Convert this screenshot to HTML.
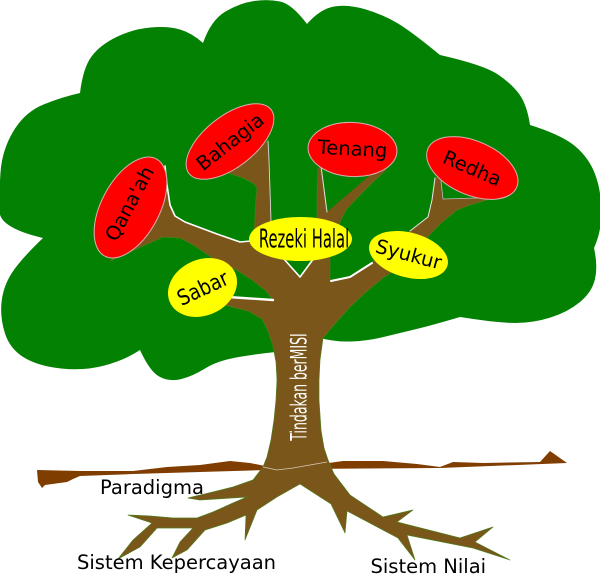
<!DOCTYPE html>
<html>
<head>
<meta charset="utf-8">
<style>
html,body{margin:0;padding:0;background:#fff;width:600px;height:574px;overflow:hidden}
svg{display:block}
</style>
</head>
<body>
<svg width="600" height="574" viewBox="0 0 600 574" xmlns="http://www.w3.org/2000/svg" font-family="'DejaVu Sans','Liberation Sans',sans-serif">
  <!-- canopy -->
  <path fill="#038103" d="M276,352 Q255,354 236,357.5 Q217,361 205,368.5 Q193,376 181.5,379 Q170,382 160,377 Q150,372 140,350 Q125,360 104.5,365.5 Q84,371 61,368.5 Q38,366 24,357.5 Q10,349 5,333.5 Q0,318 1.5,302.5 Q3,287 11.5,273.5 Q20,260 43,238 Q0,228 -0.5,211.5 Q-1,195 0.5,172.5 Q2,150 13.5,131 Q25,112 43.5,104.5 Q62,97 80,93 Q83,68 91.5,56.5 Q100,45 116.5,37 Q133,29 150.5,27.5 Q168,26 180,29.5 Q192,33 203,43 Q211,20 225.5,11.5 Q240,3 254,1 Q268,-1 280,1.5 Q292,4 307,24 Q320,9 334,6.5 Q348,4 366,9.5 Q384,15 398,23.5 Q412,32 440,55 Q484,65 498,74.5 Q512,84 519.5,94.5 Q527,105 530,125 Q562,135 575.5,146.5 Q589,158 595,174 Q601,190 601.5,210 Q602,230 594,248 Q598,266 595,279 Q592,292 580,302 Q568,312 550.5,317.5 Q533,323 515.5,323 Q498,323 460,317 Q433,325 416.5,329 Q400,333 383.5,337 Q367,341 351,341.5 Q335,342 320,338 L300,350 Z"/>

  <!-- ground strip -->
  <path fill="#803d00" d="M37,470 L80,471 L133,471 L167,467 L200,465 L230,461 L250,463 L265,466 L300,467 L343,461 L383,461 L417,464 L440,467 L453,462 L483,463 L540,462 L550,451 L567,463 L440,468 L300,469 L133,474 L80,476 L73,479 L67,482 L45,485 L42,488 L38,482 Z"/>

  <!-- tree trunk, branches, roots -->
  <path fill="#7a561b" stroke="#4f7d1b" stroke-width="0.7" stroke-linejoin="round" d="M263,467 L267,457 L271,440 L274,420 L276,400 L277,380 L276,362 L273,346 L268,331 L262,319 L248,311 L232,307 L222,304 L222,298 L232,297 L273,300 L266,291 L252,280 L233,268 L212,258 L195,246 L180,238 L163,237 L110,261 L145,232 L152,222 L158,200 L162,178 L165,166 L167,185 L170,205 L175,216 L185,222 L217,234 L240,242 L251,241 L254,232 L255,215 L256,198 L257,188 L253,183 L243,178 L226,172 L240,158 L260,146 L268,141 L269,160 L270,190 L271,222 L300,226 L317,220 L317,195 L318,168 L340,160 L386,170 L372,183 L358,197 L346,210 L340,222 L336,245 L330,257 L330,280 L350,277 L371,263 L390,246 L410,231 L428,217 L432,200 L435,178 L445,176 L480,192 L495,197 L487,200 L470,205 L457,210 L440,224 L420,245 L398,268 L383,278 L366,292 L350,307 L333,326 L323,338 L320,360 L319,380 L319,400 L321,430 L324,448 L328,460 L334,474 L350,495 L383,517 L413,510 L397,522 L460,538 L493,527 L475,542 L510,560 L473,548 L407,535 L415,560 L398,538 L347,511 L345,533 L331,504 L300,484 L277,497 L257,510 L245,540 L246,515 L227,523 L205,530 L187,550 L172,558 L180,542 L193,528 L157,528 L140,547 L118,559 L133,540 L152,523 L128,515 L150,516 L173,518 L197,518 L213,512 L233,503 L247,497 L200,500 L188,498 L213,492 L233,487 L253,480 Z"/>

  <!-- faint ground line across trunk -->
  <polyline points="263,467 277,470 293,468 327,462" fill="none" stroke="#d9cbb5" stroke-width="0.8"/>

  <!-- green holes between branches -->
  <polygon points="281,256 300,277 316,256" fill="#038103"/>
  <polygon points="321,165 376,170 327,212" fill="#038103"/>
  <polygon points="441,179 443,199 480,197.5" fill="#038103"/>

  <!-- white highlight edges -->
  <g fill="none" stroke="#ffffff" stroke-linecap="round" stroke-linejoin="round">
    <polyline points="165,166 167,185 170,205 175,216 185,222 217,234 240,242 251,241" stroke-width="1.6"/>
    <polyline points="268,141 269,160 270,190 271,222" stroke-width="0.9" stroke="#d8d8d8"/>
    <polyline points="321,166 327,212" stroke-width="1" stroke="#e0e0e0"/>
    <polyline points="283,258 300,277 314,258" stroke-width="1.6"/>
    <polyline points="331,281 350,277 372,263" stroke-width="2"/>
    <polyline points="410,231 428,217 432,200 435,178" stroke-width="1" stroke="#e6e6e6"/>
    <polyline points="441,181 443,199 478,198" stroke-width="0.8" stroke="#bcbcbc"/>
    <polyline points="228,297 273,300" stroke-width="2.4"/>
  </g>

  <!-- ellipses -->
  <g stroke="#d8b0b0" stroke-width="1">
    <ellipse cx="0" cy="0" rx="55" ry="29" fill="#ff0000" transform="translate(130.5,207.5) rotate(-62)"/>
    <ellipse cx="0" cy="0" rx="52" ry="25.5" fill="#ff0000" transform="translate(230,141.5) rotate(-38)"/>
    <ellipse cx="0" cy="0" rx="44.5" ry="27" fill="#ff0000" transform="translate(352.5,149.5) rotate(3)"/>
    <ellipse cx="0" cy="0" rx="48.4" ry="26.9" fill="#ff0000" transform="translate(472.3,168) rotate(23.5)"/>
  </g>
  <ellipse cx="300.5" cy="239" rx="51.5" ry="22" fill="#ffff00"/>
  <ellipse cx="0" cy="0" rx="40.4" ry="22.4" fill="#ffff00" transform="translate(408.5,255) rotate(15)"/>
  <ellipse cx="0" cy="0" rx="35.8" ry="27.9" fill="#ffff00" transform="translate(202.5,287.5) rotate(-25)"/>

  <!-- ellipse labels -->
  <g fill="#000" font-size="19.5" text-anchor="middle">
    <text x="3" y="4" transform="translate(130.5,207.5) rotate(-62)">Qana'ah</text>
    <text x="0" y="7" transform="translate(230,141.5) rotate(-38)">Bahagia</text>
    <text x="0" y="6" transform="translate(352.5,149.5) rotate(3)">Tenang</text>
    <text x="0" y="7" transform="translate(472.3,168) rotate(23.5)">Redha</text>
    <text x="0" y="6" transform="translate(408.5,255) rotate(15)">Syukur</text>
    <text x="0" y="8" font-size="21.5" transform="translate(202.5,287.5) rotate(-25) scale(0.86,1)">Sabar</text>
    <text x="0" y="0" font-size="25.5" transform="translate(304,247.5) scale(0.58,1)">Rezeki Halal</text>
  </g>

  <!-- trunk label -->
  <text x="0" y="0" fill="#ffffff" font-size="22" text-anchor="middle" transform="translate(306.5,387) rotate(-90) scale(0.567,1)">Tindakan berMISI</text>

  <!-- root labels -->
  <g fill="#000" font-size="19.5">
    <text x="100" y="494">Paradigma</text>
    <text x="77" y="569">Sistem Kepercayaan</text>
    <text x="370.5" y="573">Sistem Nilai</text>
  </g>
</svg>
</body>
</html>
